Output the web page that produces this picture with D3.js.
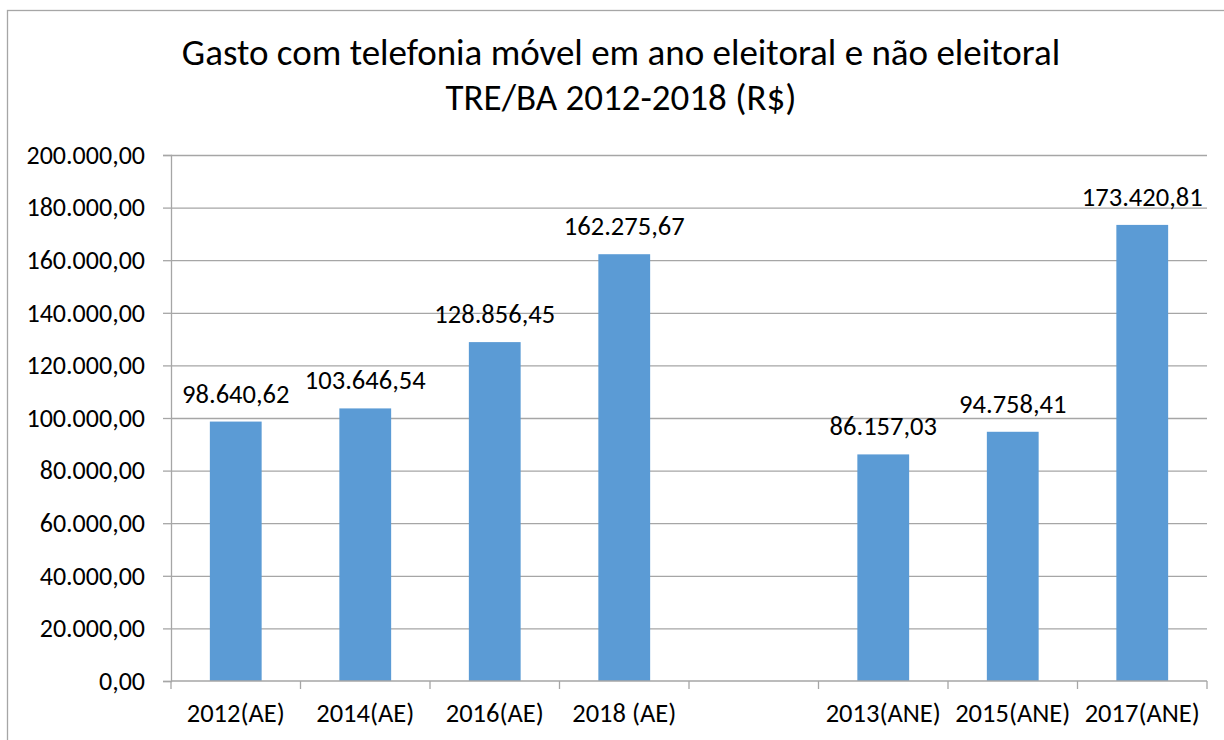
<!DOCTYPE html>
<html>
<head>
<meta charset="utf-8">
<script src="https://cdn.jsdelivr.net/npm/d3@7"></script>
<style>
    body { margin: 0; background: #fff; }
    svg text { font-family: Calibri, Carlito, "Open Sans", sans-serif; fill: #000; }
</style>
</head>
<body>
<svg id="chart" width="1224" height="740"></svg>
<script>
/*------------------- data --------------------*/
const titleLines = ["Gasto com telefonia móvel em ano eleitoral e não eleitoral", "TRE/BA 2012-2018 (R$)"];
const categories = ["2012(AE)", "2014(AE)", "2016(AE)", "2018 (AE)", " ", "2013(ANE)", "2015(ANE)", "2017(ANE)"];
const values = [98640.62, 103646.54, 128856.45, 162275.67, null, 86157.03, 94758.41, 173420.81];
const yTicks = [0, 20000, 40000, 60000, 80000, 100000, 120000, 140000, 160000, 180000, 200000];

/*------------------- layout --------------------*/
const plot = { left: 171, right: 1207, top: 155, bottom: 681 };
const barColor = "#5B9BD5";
const gridColor = "#A6A6A6";

const ptBR = d3.formatLocale({ decimal: ",", thousands: ".", grouping: [3], currency: ["R$", ""] });
const fmt = ptBR.format(",.2f");

const svg = d3.select("#chart");

// outer chart border (runs off right / bottom edge)
svg.append("rect")
    .attr("x", 7.5).attr("y", 10.5)
    .attr("width", 1260).attr("height", 760)
    .attr("fill", "#fff")
    .attr("stroke", "#A6A6A6").attr("stroke-width", 1.3);

// title
svg.append("g").selectAll("text")
    .data(titleLines)
    .join("text")
    .attr("x", 621)
    .attr("y", (d, i) => 65 + i * 45)
    .attr("text-anchor", "middle")
    .attr("font-size", 37)
    .text(d => d);

/*------------------- scales --------------------*/
const x = d3.scaleBand()
    .domain(categories)
    .range([plot.left, plot.right])
    .paddingInner(0.6)
    .paddingOuter(0.3);

const y = d3.scaleLinear()
    .domain([0, 200000])
    .range([plot.bottom, plot.top]);

/*------------------- grid + y axis --------------------*/
const yAxis = svg.append("g")
    .attr("transform", `translate(${plot.left},0)`)
    .call(d3.axisLeft(y)
        .tickValues(yTicks)
        .tickFormat(fmt)
        .tickSize(8)
        .tickPadding(18));
yAxis.select(".domain").attr("stroke", gridColor).attr("stroke-width", 1.3);
yAxis.selectAll(".tick line").attr("stroke", gridColor).attr("stroke-width", 1.3);
yAxis.selectAll(".tick text").attr("font-size", 26).attr("font-family", null);
yAxis.selectAll(".tick")
    .filter(d => d > 0)
    .append("line")
    .attr("x1", 0).attr("x2", plot.right - plot.left)
    .attr("stroke", gridColor).attr("stroke-width", 1.3);

/*------------------- bars --------------------*/
const bars = categories.map((c, i) => ({ cat: c, value: values[i] })).filter(d => d.value != null);

svg.append("g").selectAll("rect")
    .data(bars)
    .join("rect")
    .attr("x", d => x(d.cat))
    .attr("y", d => y(d.value))
    .attr("width", x.bandwidth())
    .attr("height", d => y(0) - y(d.value))
    .attr("fill", barColor);

// data labels
svg.append("g").selectAll("text")
    .data(bars)
    .join("text")
    .attr("x", d => x(d.cat) + x.bandwidth() / 2)
    .attr("y", d => y(d.value) - 19)
    .attr("text-anchor", "middle")
    .attr("font-size", 26.5)
    .text(d => fmt(d.value));

/*------------------- x axis --------------------*/
const step = x.step();
const xAxis = svg.append("g")
    .attr("transform", `translate(0,${plot.bottom})`);

xAxis.append("line")
    .attr("x1", plot.left).attr("x2", plot.right)
    .attr("stroke", gridColor).attr("stroke-width", 1.3);

xAxis.selectAll("line.sep")
    .data(d3.range(categories.length + 1))
    .join("line")
    .attr("class", "sep")
    .attr("x1", i => plot.left + i * step)
    .attr("x2", i => plot.left + i * step)
    .attr("y1", 0).attr("y2", 8)
    .attr("stroke", gridColor).attr("stroke-width", 1.3);

xAxis.selectAll("text")
    .data(categories)
    .join("text")
    .attr("x", d => x(d) + x.bandwidth() / 2)
    .attr("y", 41)
    .attr("text-anchor", "middle")
    .attr("font-size", 26.5)
    .text(d => d);
</script>
</body>
</html>
